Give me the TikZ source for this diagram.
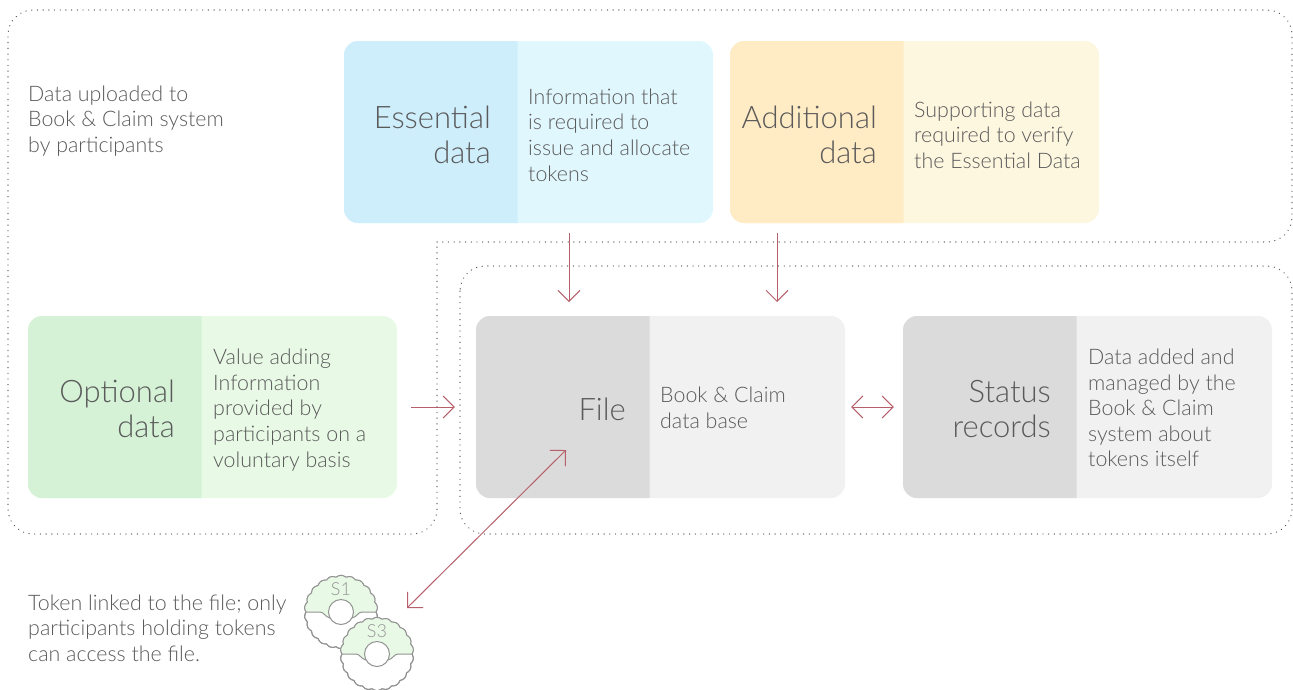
\documentclass[tikz,border=0pt]{standalone}
\usepackage{fontspec}
\setmainfont{Lato Light}
\usetikzlibrary{arrows.meta}
\definecolor{inktext}{HTML}{5A5A5A}
\definecolor{linkred}{HTML}{B5606A}
\definecolor{dotgray}{HTML}{5A5A5A}
\definecolor{blueD}{HTML}{CEEEFC}
\definecolor{blueL}{HTML}{E1F7FE}
\definecolor{yellowD}{HTML}{FFEBC4}
\definecolor{yellowL}{HTML}{FEF7E0}
\definecolor{greenD}{HTML}{D5F2D6}
\definecolor{greenL}{HTML}{E8FAE6}
\definecolor{grayD}{HTML}{DBDBDB}
\definecolor{grayL}{HTML}{F1F1F1}
\tikzset{
  panel/.style={rounded corners=14pt, minimum width=369pt, minimum height=182pt, inner sep=0pt},
  bigtext/.style={text=inktext, align=right, anchor=east, inner sep=0pt, font=\fontsize{31}{35}\selectfont},
  smalltext/.style={text=inktext, align=left, anchor=west, inner sep=0pt, font=\fontsize{21.4}{25.6}\selectfont},
  region/.style={dotgray, line width=1.2pt, line cap=round, dash pattern=on 0.2pt off 5.5pt, rounded corners=25pt},
  link/.style={linkred, line width=1pt, line join=miter},
  tip/.tip={Straight Barb[length=11pt, width=22pt, line width=1pt]},
  tokenline/.style={draw=gray!85, line width=1pt},
}
\newcommand{\tokendisc}[4]{%
  \begin{scope}[shift={(#1,#2)}]
    \filldraw[tokenline, fill=white] plot[domain=0:360, samples=241, smooth] (\x:{35+1.6*abs(sin(11*\x))}) -- cycle;
    \begin{scope}
      \clip plot[domain=0:360, samples=241] (\x:{35+1.6*abs(sin(11*\x))}) -- cycle;
      \fill[greenL] (-40,0) -- (-21,0) .. controls (-17,0) and (-16,5) .. (-11,6) -- (11,6) .. controls (16,5) and (17,0) .. (21,0) -- (40,0) -- (40,-40) -- (-40,-40) -- cycle;
      \draw[tokenline] (-40,0) -- (-21,0) .. controls (-17,0) and (-16,5) .. (-11,6);
      \draw[tokenline] (40,0) -- (21,0) .. controls (17,0) and (16,5) .. (11,6);
    \end{scope}
    \draw[tokenline] plot[domain=0:360, samples=241, smooth] (\x:{35+1.6*abs(sin(11*\x))}) -- cycle;
    \filldraw[tokenline, fill=white] (0,0) circle (12.5);
    \node[text=gray!85, inner sep=0pt, font=\fontsize{18}{18}\selectfont] (#4) at (0,-23) {#3};
  \end{scope}}
\begin{document}
\begin{tikzpicture}[x=1pt, y=-1pt]
  \useasboundingbox (0,0) rectangle (1293,689);
  % Dotted regions
  \draw[region] (437,242) -- (1292,242) -- (1292,10) -- (8,10) -- (8,534) -- (437,534) -- (437,242);
  \draw[region] (460,266) rectangle (1292,534);
  % Panels
  \foreach \name/\px/\py/\dark/\light in {E/344/41/blueD/blueL, A/730/41/yellowD/yellowL, O/28/316/greenD/greenL, F/476/316/grayD/grayL, S/903/316/grayD/grayL}{
    \node[panel, fill=\light] (\name) at (\px+184.5,\py+91) {};
    \begin{scope}
      \clip (\px,\py) rectangle (\px+173.5,\py+182);
      \fill[\dark, rounded corners=14pt] (\px,\py) rectangle (\px+369,\py+182);
    \end{scope}
  }
  % Panel texts
  \node[bigtext] (Etitle) at (491,135) {Essential\\data};
  \node[bigtext] (Atitle) at (877,135) {Additional\\data\hspace{15pt}};
  \node[bigtext] (Otitle) at (175,409) {Optional\\data};
  \node[bigtext] (Ftitle) at (626,409) {File};
  \node[bigtext] (Stitle) at (1051,409) {Status\\records};
  \node[smalltext] (Etext) at (528,135) {Information that\\is required to\\issue and allocate\\tokens};
  \node[smalltext] (Atext) at (914,135) {Supporting data\\required to verify\\the Essential Data};
  \node[smalltext] (Otext) at (213,410) {Value adding\\Information\\provided by\\participants on a\\voluntary basis};
  \node[smalltext] (Ftext) at (660,408) {Book \& Claim\\data base};
  \node[smalltext] (Stext) at (1088,408) {Data added and\\managed by the\\Book \& Claim\\system about\\tokens itself};
  % Side notes
  \node[smalltext] (upload) at (28,121) {Data uploaded to\\Book \& Claim system\\by participants};
  \node[smalltext] (tokennote) at (28,628) {Token linked to the file; only\\participants holding tokens\\can access the file.};
  % Tokens
  \tokendisc{341}{612}{S1}{tokenA}
  \tokendisc{377}{654}{S3}{tokenB}
  \coordinate (Eout) at (569,223);
  \coordinate (Ein) at (569,316);
  \coordinate (Aout) at (777,223);
  \coordinate (Ain) at (777,316);
  \coordinate (Fpoint) at (566,450);
  \coordinate (Tpoint) at (407,608);
  % Links
  \draw[link, -{tip}, shorten <=10pt, shorten >=14pt] (Eout) -- (Ein);
  \draw[link, -{tip}, shorten <=10pt, shorten >=14pt] (Aout) -- (Ain);
  \draw[link, -{tip}, shorten <=14pt, shorten >=21pt] (O) -- (F);
  \draw[link, {tip}-{tip}, shorten <=6pt, shorten >=9pt] (F) -- (S);
  \draw[link, {tip}-{tip}] (Fpoint) -- (Tpoint);
\end{tikzpicture}
\end{document}
